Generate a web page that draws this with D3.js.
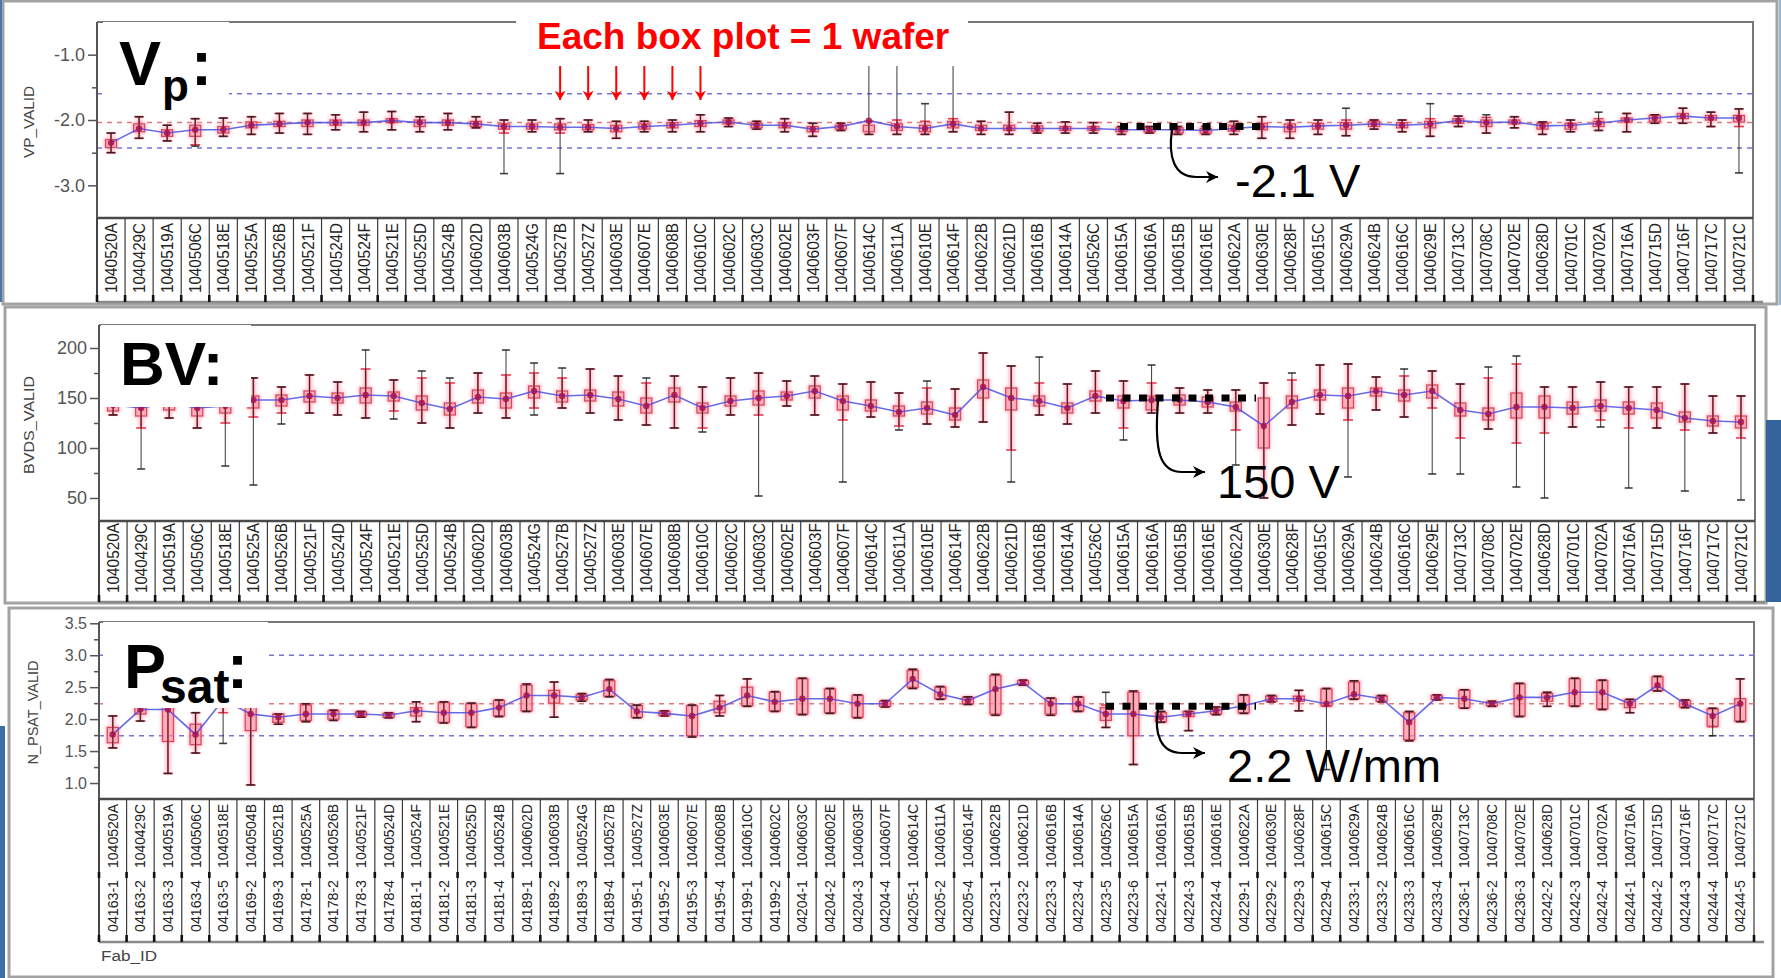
<!DOCTYPE html>
<html>
<head>
<meta charset="utf-8">
<script src="https://cdn.jsdelivr.net/npm/d3@7"></script>
<style>
  body { margin: 0; background: #fff; }
  svg { display: block; font-family: "Liberation Sans", Arial, sans-serif; }
</style>
</head>
<body>
<svg id="chart" width="1781" height="978"></svg>
<script>
// wafer ids, shared by the Vp and BV panels
const waferIds = ["1040520A","1040429C","1040519A","1040506C","1040518E","1040525A","1040526B","1040521F","1040524D","1040524F",
  "1040521E","1040525D","1040524B","1040602D","1040603B","1040524G","1040527B","1040527Z","1040603E","1040607E",
  "1040608B","1040610C","1040602C","1040603C","1040602E","1040603F","1040607F","1040614C","1040611A","1040610E",
  "1040614F","1040622B","1040621D","1040616B","1040614A","1040526C","1040615A","1040616A","1040615B","1040616E",
  "1040622A","1040630E","1040628F","1040615C","1040629A","1040624B","1040616C","1040629E","1040713C","1040708C",
  "1040702E","1040628D","1040701C","1040702A","1040716A","1040715D","1040716F","1040717C","1040721C"];

// Psat panel is nested: Fab_ID + wafer
const psFab = ["04163-1","04163-2","04163-3","04163-4","04163-5","04169-2","04169-3","04178-1","04178-2","04178-3",
  "04178-4","04181-1","04181-2","04181-3","04181-4","04189-1","04189-2","04189-3","04189-4","04195-1",
  "04195-2","04195-3","04195-4","04199-1","04199-2","04204-1","04204-2","04204-3","04204-4","04205-1",
  "04205-2","04205-4","04223-1","04223-2","04223-3","04223-4","04223-5","04223-6","04224-1","04224-3",
  "04224-4","04229-1","04229-2","04229-3","04229-4","04233-1","04233-2","04233-3","04233-4","04236-1",
  "04236-2","04236-3","04242-2","04242-3","04242-4","04244-1","04244-2","04244-3","04244-4","04244-5"];
const psWafer = ["1040520A","1040429C","1040519A","1040506C","1040518E","1040504B","1040521B","1040525A","1040526B","1040521F",
  "1040524D","1040524F","1040521E","1040525D","1040524B","1040602D","1040603B","1040524G","1040527B","1040527Z",
  "1040603E","1040607E","1040608B","1040610C","1040602C","1040603C","1040602E","1040603F","1040607F","1040614C",
  "1040611A","1040614F","1040622B","1040621D","1040616B","1040614A","1040526C","1040615A","1040616A","1040615B",
  "1040616E","1040622A","1040630E","1040628F","1040615C","1040629A","1040624B","1040616C","1040629E","1040713C",
  "1040708C","1040702E","1040628D","1040701C","1040702A","1040716A","1040715D","1040716F","1040717C","1040721C"];

// VP_VALID (V)
const vpMean = [-2.35,-2.13,-2.20,-2.15,-2.15,-2.08,-2.06,-2.04,-2.04,-2.04,
  -2.01,-2.04,-2.04,-2.06,-2.10,-2.10,-2.11,-2.11,-2.13,-2.10,
  -2.08,-2.05,-2.03,-2.08,-2.08,-2.14,-2.10,-2.01,-2.10,-2.13,
  -2.06,-2.13,-2.13,-2.13,-2.13,-2.13,-2.15,-2.15,-2.15,-2.16,
  -2.13,-2.10,-2.11,-2.09,-2.08,-2.06,-2.08,-2.06,-2.01,-2.04,
  -2.03,-2.09,-2.08,-2.05,-2.00,-1.97,-1.94,-1.97,-1.97];
const vpQ1 = [-2.42,-2.18,-2.25,-2.25,-2.20,-2.12,-2.10,-2.10,-2.08,-2.08,
  -2.04,-2.10,-2.08,-2.10,-2.14,-2.14,-2.15,-2.15,-2.18,-2.14,
  -2.12,-2.10,-2.06,-2.12,-2.12,-2.18,-2.14,-2.18,-2.16,-2.18,
  -2.12,-2.16,-2.16,-2.17,-2.16,-2.16,-2.18,-2.18,-2.20,-2.20,
  -2.17,-2.15,-2.18,-2.14,-2.14,-2.10,-2.12,-2.12,-2.05,-2.10,
  -2.06,-2.14,-2.14,-2.10,-2.03,-2.02,-1.98,-2.00,-2.03];
const vpQ3 = [-2.30,-2.06,-2.15,-2.08,-2.10,-2.03,-2.02,-2.00,-2.00,-2.00,
  -1.98,-2.00,-2.00,-2.02,-2.06,-2.06,-2.06,-2.07,-2.08,-2.06,
  -2.04,-2.01,-2.00,-2.05,-2.04,-2.10,-2.08,-2.08,-2.06,-2.08,
  -2.02,-2.08,-2.08,-2.09,-2.10,-2.10,-2.12,-2.12,-2.12,-2.13,
  -2.08,-2.05,-2.06,-2.05,-2.04,-2.02,-2.04,-2.02,-1.98,-2.00,
  -2.00,-2.05,-2.05,-2.02,-1.97,-1.93,-1.90,-1.93,-1.93];
const vpLo = [-2.50,-2.28,-2.32,-2.38,-2.25,-2.22,-2.20,-2.22,-2.15,-2.18,
  -2.15,-2.18,-2.15,-2.12,-2.20,-2.18,-2.20,-2.18,-2.28,-2.18,
  -2.18,-2.18,-2.10,-2.14,-2.18,-2.25,-2.16,-2.22,-2.22,-2.22,
  -2.18,-2.22,-2.22,-2.20,-2.20,-2.20,-2.22,-2.20,-2.22,-2.22,
  -2.22,-2.28,-2.28,-2.22,-2.24,-2.14,-2.18,-2.25,-2.10,-2.20,
  -2.12,-2.22,-2.18,-2.16,-2.18,-2.05,-2.05,-2.10,-2.10];
const vpHi = [-2.20,-1.95,-2.08,-1.98,-1.97,-1.95,-1.90,-1.90,-1.92,-1.88,
  -1.87,-1.95,-1.90,-1.95,-2.00,-2.00,-1.98,-2.00,-2.02,-2.02,
  -2.00,-1.92,-1.97,-2.02,-1.98,-2.05,-2.05,-2.02,-2.00,-2.02,
  -1.98,-2.02,-1.88,-2.05,-2.03,-2.04,-2.10,-2.10,-2.10,-2.10,
  -2.02,-1.95,-2.00,-2.00,-2.00,-2.00,-2.00,-1.98,-1.94,-1.96,
  -1.95,-2.03,-2.00,-1.98,-1.90,-1.92,-1.82,-1.88,-1.83];
const vpMin = [-2.50,-2.28,-2.32,-2.40,-2.25,-2.22,-2.20,-2.22,-2.15,-2.18,
  -2.15,-2.18,-2.15,-2.12,-2.82,-2.18,-2.82,-2.18,-2.28,-2.18,
  -2.18,-2.18,-2.10,-2.14,-2.18,-2.25,-2.16,-2.22,-2.22,-2.22,
  -2.18,-2.22,-2.22,-2.20,-2.20,-2.20,-2.22,-2.20,-2.22,-2.22,
  -2.22,-2.28,-2.28,-2.22,-2.24,-2.14,-2.18,-2.25,-2.10,-2.20,
  -2.12,-2.22,-2.18,-2.16,-2.18,-2.05,-2.05,-2.10,-2.81];
const vpMax = [-2.20,-1.95,-2.08,-1.98,-1.97,-1.95,-1.90,-1.90,-1.92,-1.88,
  -1.87,-1.95,-1.90,-1.95,-2.00,-2.00,-1.98,-2.00,-2.02,-2.02,
  -2.00,-1.92,-1.97,-2.02,-1.98,-2.05,-2.05,-0.60,-0.60,-1.75,
  -0.60,-2.02,-1.88,-2.05,-2.03,-2.04,-2.10,-2.10,-2.10,-2.10,
  -2.02,-1.95,-2.00,-2.00,-1.82,-2.00,-2.00,-1.75,-1.94,-1.92,
  -1.95,-2.03,-2.00,-1.88,-1.90,-1.92,-1.82,-1.88,-1.83];
const vpLimits = [-1.6, -2.43];
const vpTarget = [-2.04];

// BVDS_VALID (V)
const bvMean = [143,140,145,140,142,148,148,152,150,153,
  152,145,139,151,149,157,152,153,149,142,
  153,140,147,150,152,157,147,142,136,140,
  133,161,150,147,140,152,147,148,148,146,
  141,122,146,153,152,157,153,157,138,134,
  141,141,140,142,140,138,130,127,126];
const bvQ1 = [137,132,138,132,135,140,142,146,145,145,
  147,138,133,145,140,150,146,147,142,135,
  146,135,142,143,148,150,138,137,132,134,
  128,150,138,142,135,147,140,138,143,141,
  137,100,140,148,140,152,147,150,132,128,
  130,130,134,137,134,130,126,122,120];
const bvQ3 = [150,148,150,148,150,152,153,157,155,160,
  156,152,145,158,155,162,157,158,156,150,
  160,145,152,157,156,162,152,148,142,146,
  140,168,160,152,145,157,152,152,153,151,
  146,150,152,158,160,160,158,163,145,140,
  155,152,146,148,146,145,136,132,132];
const bvLo = [133,120,130,120,125,131,135,135,133,130,
  137,125,120,135,130,140,140,135,128,123,
  120,120,133,133,142,133,128,131,122,124,
  121,126,98,133,124,135,120,135,135,135,
  118,50,123,134,128,138,131,140,110,119,
  105,115,121,128,120,120,118,115,110];
const bvHi = [160,158,158,155,160,170,161,173,166,179,
  168,170,165,175,173,175,170,179,172,165,
  172,161,170,175,167,172,164,166,155,160,
  159,195,182,165,164,177,167,165,160,158,
  158,165,168,183,184,171,172,177,164,170,
  184,161,161,166,161,161,164,152,152];
const bvMin = [133,79,130,120,82,63,124,135,133,130,
  129,125,120,135,130,133,140,135,128,123,
  120,116,133,52,142,133,66,131,118,124,
  121,126,66,133,124,135,108,135,135,135,
  83,50,123,134,71,138,131,74,74,119,
  61,50,121,121,60,120,57,115,48];
const bvMax = [160,158,158,155,160,170,161,173,166,198,
  168,177,170,175,198,185,180,179,172,170,
  172,161,170,175,167,172,164,166,155,167,
  159,195,182,191,164,177,167,183,160,158,
  158,165,175,183,184,171,179,177,164,181,
  192,161,161,166,161,161,164,152,152];

// N_PSAT_VALID (W/mm)
const psMean = [1.76,2.15,2.15,1.76,2.30,2.08,2.03,2.08,2.08,2.08,
  2.06,2.13,2.10,2.10,2.18,2.37,2.37,2.34,2.47,2.12,
  2.09,2.05,2.18,2.37,2.27,2.32,2.32,2.24,2.24,2.63,
  2.39,2.29,2.47,2.57,2.24,2.24,2.08,2.08,2.03,2.08,
  2.13,2.21,2.32,2.32,2.24,2.39,2.32,1.95,2.34,2.32,
  2.24,2.34,2.34,2.42,2.42,2.24,2.53,2.24,2.05,2.24];
const psQ1 = [1.63,2.08,1.65,1.60,2.20,1.82,1.95,1.98,2.00,2.05,
  2.03,2.05,1.95,1.88,2.05,2.13,2.25,2.30,2.36,2.03,
  2.06,1.74,2.10,2.21,2.13,2.08,2.10,2.03,2.20,2.50,
  2.32,2.24,2.08,2.54,2.08,2.13,1.98,1.74,1.96,2.04,
  2.08,2.10,2.28,2.28,2.21,2.32,2.28,1.68,2.31,2.18,
  2.21,2.05,2.28,2.21,2.16,2.18,2.45,2.19,1.89,1.97];
const psQ3 = [1.87,2.25,2.25,1.92,2.40,2.21,2.08,2.22,2.13,2.11,
  2.09,2.18,2.26,2.24,2.29,2.53,2.45,2.38,2.60,2.21,
  2.12,2.21,2.28,2.50,2.42,2.63,2.47,2.37,2.28,2.76,
  2.50,2.34,2.68,2.60,2.32,2.34,2.18,2.42,2.10,2.12,
  2.18,2.37,2.36,2.36,2.47,2.58,2.36,2.10,2.37,2.45,
  2.27,2.55,2.40,2.63,2.60,2.30,2.66,2.29,2.16,2.32];
const psLo = [1.55,1.97,1.15,1.47,2.10,0.97,1.92,1.96,1.98,2.03,
  2.02,1.96,1.94,1.87,2.04,2.12,2.03,2.28,2.35,2.02,
  2.05,1.72,2.05,2.20,2.12,2.07,2.09,2.02,2.19,2.48,
  2.31,2.23,2.06,2.53,2.06,2.12,1.87,1.29,1.95,1.82,
  2.07,2.09,2.27,2.13,2.20,2.31,2.27,1.66,2.30,2.17,
  2.20,2.04,2.20,2.20,2.15,2.10,2.44,2.18,1.88,1.96];
const psHi = [2.05,2.32,2.35,2.10,2.45,2.30,2.08,2.24,2.14,2.12,
  2.10,2.27,2.27,2.25,2.30,2.55,2.58,2.40,2.62,2.22,
  2.13,2.22,2.37,2.63,2.43,2.64,2.48,2.38,2.29,2.78,
  2.51,2.35,2.70,2.61,2.33,2.35,2.22,2.44,2.12,2.12,
  2.19,2.38,2.37,2.45,2.48,2.60,2.37,2.12,2.38,2.46,
  2.28,2.56,2.42,2.64,2.61,2.31,2.67,2.30,2.17,2.63];
const psMin = [1.55,1.97,1.15,1.47,1.62,0.97,1.92,1.96,1.98,2.03,
  2.02,1.96,1.94,1.87,2.04,2.12,2.03,2.28,2.35,2.02,
  2.05,1.72,2.05,2.20,2.12,2.07,2.09,2.02,2.19,2.48,
  2.31,2.23,2.06,2.53,2.06,2.12,1.87,1.29,1.95,1.82,
  2.07,2.09,2.27,2.13,1.21,2.31,2.27,1.66,2.30,2.17,
  2.20,2.04,2.20,2.20,2.15,2.10,2.44,2.18,1.74,1.96];
const psMax = [2.05,2.32,2.35,2.10,2.45,2.30,2.08,2.24,2.14,2.12,
  2.10,2.27,2.27,2.25,2.30,2.55,2.58,2.40,2.62,2.22,
  2.13,2.22,2.37,2.63,2.43,2.64,2.48,2.38,2.29,2.78,
  2.51,2.35,2.70,2.61,2.33,2.35,2.42,2.44,2.12,2.12,
  2.19,2.38,2.37,2.45,2.48,2.60,2.37,2.12,2.38,2.46,
  2.28,2.56,2.42,2.64,2.61,2.31,2.67,2.30,2.17,2.63];
const psLimits = [3.0, 1.74];
const psTarget = [2.24];

// typical values called out on each panel
const callouts = [-2.1, 150, 2.2];
const calloutText = ["-2.1 V", "150 V", "2.2 W/mm"];
const arrowWafers = [16, 17, 18, 19, 20, 21];

const svg = d3.select('#chart');
const defs = svg.append('defs');
defs.append('filter').attr('id', 'soft')
  .attr('x', '-50%').attr('y', '-50%').attr('width', '200%').attr('height', '200%')
  .append('feGaussianBlur').attr('stdDeviation', 1.8);
defs.append('marker').attr('id', 'headRed')
  .attr('viewBox', '0 0 10 12').attr('refX', 10).attr('refY', 6)
  .attr('markerUnits', 'userSpaceOnUse').attr('markerWidth', 13).attr('markerHeight', 11)
  .attr('orient', 'auto')
  .append('path').attr('d', 'M0,0L10,6L0,12L3,6Z').attr('fill', '#ff0000');
defs.append('marker').attr('id', 'headBlack')
  .attr('viewBox', '0 0 10 10').attr('refX', 10).attr('refY', 5)
  .attr('markerUnits', 'userSpaceOnUse').attr('markerWidth', 14).attr('markerHeight', 12)
  .attr('orient', 'auto')
  .append('path').attr('d', 'M0,0L10,5L0,10L3,5Z').attr('fill', '#000');

// window frames
const frames = [[3, 1, 1774, 303], [5, 307, 1761, 296], [9, 608, 1764, 369]];
frames.forEach(f => {
  svg.append('rect').attr('x', f[0]).attr('y', f[1]).attr('width', f[2]).attr('height', f[3])
    .attr('fill', '#fff').attr('stroke', '#a3a3a3').attr('stroke-width', 3);
});
svg.append('rect').attr('x', 0).attr('y', 0).attr('width', 2).attr('height', 302).attr('fill', '#4a78ad');
svg.append('rect').attr('x', 0).attr('y', 726).attr('width', 5).attr('height', 252).attr('fill', '#3d6ea6');
svg.append('rect').attr('x', 1766).attr('y', 420).attr('width', 15).attr('height', 182).attr('fill', '#33649b');
svg.append('line').attr('x1', 1780).attr('x2', 1780).attr('y1', 0).attr('y2', 305)
  .attr('stroke', '#7a9cc8').attr('stroke-width', 1.5);

const fmt1 = v => v.toFixed(1);

const panels = [
  { mean: vpMean, q1: vpQ1, q3: vpQ3, lo: vpLo, hi: vpHi, min: vpMin, max: vpMax,
    limits: vpLimits, target: vpTarget, labels: waferIds,
    left: 97, right: 1753, top: 22, axisY: 218, labelBottom: 302,
    domain: [-3.5, -0.5], major: [-3, -2, -1], minor: [-2.5, -1.5], fmt: fmt1, fontSize: 18,
    title: 'VP_VALID', titleX: 29, titleLen: 72 },
  { mean: bvMean, q1: bvQ1, q3: bvQ3, lo: bvLo, hi: bvHi, min: bvMin, max: bvMax,
    limits: [], target: [], labels: waferIds,
    left: 99, right: 1755, top: 325, axisY: 521, labelBottom: 602,
    domain: [27, 223], major: [50, 100, 150, 200], minor: [75, 125, 175], fmt: d3.format('d'), fontSize: 18,
    title: 'BVDS_VALID', titleX: 29, titleLen: 98 },
  { mean: psMean, q1: psQ1, q3: psQ3, lo: psLo, hi: psHi, min: psMin, max: psMax,
    limits: psLimits, target: psTarget, labels: psWafer, fab: psFab,
    left: 99, right: 1754, top: 622, axisY: 799, labelBottom: 942,
    domain: [0.75, 3.52], major: [1, 1.5, 2, 2.5, 3, 3.5], minor: [1.25, 1.75, 2.25, 2.75, 3.25], fmt: fmt1, fontSize: 16,
    title: 'N_PSAT_VALID', titleX: 33, titleLen: 104 }
];

const scales = panels.map((p, k) => drawPanel(p, k));

function drawPanel(p, k) {
  const n = p.mean.length;
  const x = d3.scaleBand().domain(d3.range(n)).range([p.left, p.right]);
  const y = d3.scaleLinear().domain(p.domain).range([p.axisY, p.top]);
  const cx = i => x(i) + x.bandwidth() / 2;
  const g = svg.append('g');

  g.append('path').attr('d', `M${p.left},${p.top}H${p.right}V${p.axisY}`)
    .attr('fill', 'none').attr('stroke', '#777').attr('stroke-width', 2);

  p.limits.forEach(v => g.append('line')
    .attr('x1', p.left).attr('x2', p.right).attr('y1', y(v)).attr('y2', y(v))
    .attr('stroke', '#7474d8').attr('stroke-width', 1.5).attr('stroke-dasharray', '5,5'));
  p.target.forEach(v => g.append('line')
    .attr('x1', p.left).attr('x2', p.right).attr('y1', y(v)).attr('y2', y(v))
    .attr('stroke', '#e07a7a').attr('stroke-width', 1.5).attr('stroke-dasharray', '5,5'));

  defs.append('clipPath').attr('id', 'clip' + k).append('rect')
    .attr('x', p.left).attr('y', p.top).attr('width', p.right - p.left).attr('height', p.axisY - p.top);
  const m = g.append('g').attr('clip-path', `url(#clip${k})`);
  const idx = d3.range(n);
  const bw = 11;

  // pink halo, like the smeared original
  const halo = m.append('g').attr('filter', 'url(#soft)').attr('opacity', 0.55);
  halo.selectAll('rect').data(idx).join('rect')
    .attr('x', i => cx(i) - bw / 2 - 2).attr('width', bw + 4)
    .attr('y', i => y(p.q3[i]) - 2).attr('height', i => y(p.q1[i]) - y(p.q3[i]) + 4)
    .attr('fill', '#ff9fb0');
  halo.selectAll('line').data(idx).join('line')
    .attr('x1', cx).attr('x2', cx).attr('y1', i => y(p.lo[i])).attr('y2', i => y(p.hi[i]))
    .attr('stroke', '#ff9fb0').attr('stroke-width', 6);

  // red whiskers
  m.append('g').selectAll('line').data(idx).join('line')
    .attr('x1', cx).attr('x2', cx).attr('y1', i => y(p.lo[i])).attr('y2', i => y(p.hi[i]))
    .attr('stroke', '#ec3a55').attr('stroke-width', 1.6);
  ['lo', 'hi'].forEach(key => m.append('g').selectAll('line').data(idx).join('line')
    .attr('x1', i => cx(i) - 5).attr('x2', i => cx(i) + 5)
    .attr('y1', i => y(p[key][i])).attr('y2', i => y(p[key][i]))
    .attr('stroke', '#ec3a55').attr('stroke-width', 1.6));

  // boxes
  m.append('g').selectAll('rect').data(idx).join('rect')
    .attr('x', i => cx(i) - bw / 2).attr('width', bw)
    .attr('y', i => y(p.q3[i])).attr('height', i => Math.max(2, y(p.q1[i]) - y(p.q3[i])))
    .attr('fill', 'rgba(255,120,140,0.35)').attr('stroke', '#d94a62').attr('stroke-width', 1.3);

  // black range lines
  m.append('g').selectAll('line').data(idx).join('line')
    .attr('x1', cx).attr('x2', cx).attr('y1', i => y(p.min[i])).attr('y2', i => y(p.max[i]))
    .attr('stroke', '#1e1e1e').attr('stroke-width', 1.1).attr('opacity', 0.8);
  ['min', 'max'].forEach(key => m.append('g').selectAll('line').data(idx).join('line')
    .attr('x1', i => cx(i) - 4).attr('x2', i => cx(i) + 4)
    .attr('y1', i => y(p[key][i])).attr('y2', i => y(p[key][i]))
    .attr('stroke', '#1e1e1e').attr('stroke-width', 1.6).attr('opacity', 0.85));

  // mean line and points
  m.append('path').datum(idx)
    .attr('d', d3.line().x(cx).y(i => y(p.mean[i])))
    .attr('fill', 'none').attr('stroke', '#5050e0').attr('stroke-width', 1.6).attr('opacity', 0.85);
  m.append('g').selectAll('circle').data(idx).join('circle')
    .attr('cx', cx).attr('cy', i => y(p.mean[i])).attr('r', 3.2)
    .attr('fill', '#a8124a').attr('opacity', 0.85);

  // y axis
  const ax = g.append('g').attr('transform', `translate(${p.left},0)`)
    .call(d3.axisLeft(y).tickValues(p.major).tickSize(9).tickPadding(3).tickFormat(p.fmt));
  ax.select('.domain').remove();
  ax.selectAll('line').attr('stroke', '#555').attr('stroke-width', 1.5);
  ax.selectAll('text').attr('fill', '#555').attr('font-size', p.fontSize).attr('font-family', '"Liberation Sans", Arial, sans-serif');
  const axm = g.append('g').attr('transform', `translate(${p.left},0)`)
    .call(d3.axisLeft(y).tickValues(p.minor).tickSize(5).tickFormat(''));
  axm.select('.domain').remove();
  axm.selectAll('line').attr('stroke', '#555').attr('stroke-width', 1.5);
  g.append('line').attr('x1', p.left).attr('x2', p.left).attr('y1', p.top).attr('y2', p.labelBottom)
    .attr('stroke', '#555').attr('stroke-width', 2);

  g.append('text').attr('transform', `translate(${p.titleX},${(p.top + p.axisY) / 2 + 2}) rotate(-90)`)
    .attr('text-anchor', 'middle').attr('dy', '0.35em')
    .attr('font-size', 14).attr('fill', '#444')
    .attr('textLength', p.titleLen).attr('lengthAdjust', 'spacingAndGlyphs')
    .text(p.title);

  // x axis and label cells
  g.append('line').attr('x1', p.left).attr('x2', p.right).attr('y1', p.axisY).attr('y2', p.axisY)
    .attr('stroke', '#4a4a4a').attr('stroke-width', 2.5);
  g.append('line').attr('x1', p.left).attr('x2', p.right + 10).attr('y1', p.labelBottom).attr('y2', p.labelBottom)
    .attr('stroke', '#8a8a8a').attr('stroke-width', 2.5);
  const seps = d3.range(n + 1).map(i => i === n ? p.right : x(i));
  g.append('g').selectAll('line').data(seps).join('line')
    .attr('x1', d => d).attr('x2', d => d).attr('y1', p.axisY).attr('y2', p.labelBottom)
    .attr('stroke', '#3a3a3a').attr('stroke-width', 1.2);
  g.append('g').selectAll('line').data(seps).join('line')
    .attr('x1', d => d).attr('x2', d => d).attr('y1', p.labelBottom - 7).attr('y2', p.labelBottom)
    .attr('stroke', '#111').attr('stroke-width', 2.6);

  if (p.fab) {
    g.append('g').selectAll('line').data(seps).join('line')
      .attr('x1', d => d).attr('x2', d => d).attr('y1', p.labelBottom - 70).attr('y2', p.labelBottom - 64)
      .attr('stroke', '#111').attr('stroke-width', 2.6);
    g.append('g').selectAll('text').data(idx).join('text')
      .attr('transform', i => `translate(${cx(i) + 5},${p.labelBottom - 10}) rotate(-90)`)
      .attr('font-size', 14).attr('fill', '#222')
      .attr('textLength', 52).attr('lengthAdjust', 'spacingAndGlyphs')
      .text(i => p.fab[i]);
    g.append('g').selectAll('text').data(idx).join('text')
      .attr('transform', i => `translate(${cx(i) + 5},${p.labelBottom - 74}) rotate(-90)`)
      .attr('font-size', 14).attr('fill', '#222')
      .attr('textLength', 64).attr('lengthAdjust', 'spacingAndGlyphs')
      .text(i => p.labels[i]);
    g.append('text').attr('x', 101).attr('y', p.labelBottom + 19)
      .attr('font-size', 14).attr('fill', '#444')
      .attr('textLength', 56).attr('lengthAdjust', 'spacingAndGlyphs').text('Fab_ID');
  } else {
    g.append('g').selectAll('text').data(idx).join('text')
      .attr('transform', i => `translate(${cx(i) + 6},${p.labelBottom - 9}) rotate(-90)`)
      .attr('font-size', 17).attr('fill', '#222')
      .attr('textLength', 70).attr('lengthAdjust', 'spacingAndGlyphs')
      .text(i => p.labels[i]);
  }
  return { x, y, cx };
}

// ---- slide annotations on top ----
const over = svg.append('g');
const whiteBoxes = [[103, 22, 126, 85], [516, 6, 452, 60], [101, 325, 150, 82], [103, 622, 165, 86]];
whiteBoxes.forEach(b => over.append('rect').attr('x', b[0]).attr('y', b[1])
  .attr('width', b[2]).attr('height', b[3]).attr('fill', '#fff'));

const big = (x, y, size, txt) => over.append('text').attr('x', x).attr('y', y)
  .attr('font-size', size).attr('font-weight', 'bold').attr('fill', '#000').text(txt);
big(119, 85, 63, 'V'); big(162, 101, 44, 'p'); big(191, 85, 63, ':');
big(120, 385, 62, 'BV:');
big(124, 688, 63, 'P'); big(160, 703, 48, 'sat'); big(227, 688, 63, ':');

over.append('text').attr('x', 537).attr('y', 49).attr('font-size', 37).attr('font-weight', 'bold')
  .attr('fill', '#ff0000').text('Each box plot = 1 wafer');
arrowWafers.forEach(i => over.append('line')
  .attr('x1', scales[0].cx(i)).attr('x2', scales[0].cx(i)).attr('y1', 66).attr('y2', 100)
  .attr('stroke', '#ff0000').attr('stroke-width', 2).attr('marker-end', 'url(#headRed)'));

// dotted callout, bent arrow and value
const calloutGeom = [
  { x0: 1120, x1: 1265, ax: 1172, ay: 177, tip: 1218, tx: 1235, ty: 197 },
  { x0: 1106, x1: 1256, ax: 1158, ay: 472, tip: 1205, tx: 1217, ty: 498 },
  { x0: 1106, x1: 1256, ax: 1158, ay: 753, tip: 1205, tx: 1227, ty: 782 }
];
calloutGeom.forEach((c, k) => {
  const yv = scales[k].y(callouts[k]);
  over.append('line').attr('x1', c.x0).attr('x2', c.x1).attr('y1', yv).attr('y2', yv)
    .attr('stroke', '#000').attr('stroke-width', 7).attr('stroke-dasharray', '8,8.5');
  over.append('path')
    .attr('d', `M${c.ax},${yv + 3}C${c.ax - 4},${c.ay - 20} ${c.ax + 2},${c.ay} ${c.ax + 24},${c.ay}L${c.tip},${c.ay}`)
    .attr('fill', 'none').attr('stroke', '#000').attr('stroke-width', 2.2).attr('marker-end', 'url(#headBlack)');
  over.append('text').attr('x', c.tx).attr('y', c.ty).attr('font-size', 47).attr('fill', '#000')
    .text(calloutText[k]);
});
</script>
</body>
</html>
